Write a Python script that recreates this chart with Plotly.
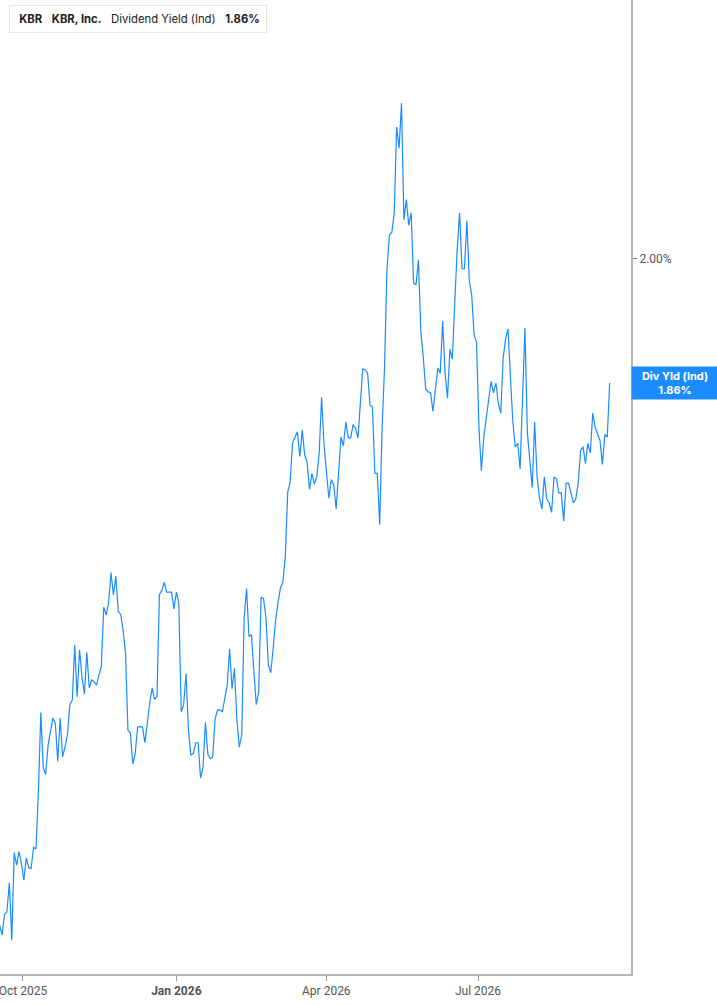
import pandas as pd
import plotly.graph_objects as go

# Dividend yield (Ind), %, one value per trading session
yield_q1 = [1.248, 1.237, 1.260, 1.263, 1.296, 1.231, 1.330, 1.316, 1.331, 1.318,
            1.299, 1.324, 1.313, 1.312, 1.336, 1.334, 1.397, 1.488, 1.426, 1.418,
            1.451, 1.465, 1.482, 1.476, 1.433, 1.482, 1.438, 1.449, 1.463, 1.497,
            1.502, 1.564, 1.506, 1.559, 1.528, 1.509, 1.556, 1.516, 1.525, 1.523,
            1.519, 1.530, 1.540, 1.607, 1.598, 1.612, 1.646, 1.621, 1.642, 1.602,
            1.599, 1.581, 1.555, 1.468, 1.465, 1.430, 1.442, 1.472, 1.472, 1.472,
            1.454, 1.480, 1.499, 1.516, 1.503, 1.506]
yield_q2 = [1.621, 1.626, 1.635, 1.624, 1.624, 1.624, 1.605, 1.624, 1.612, 1.489,
            1.497, 1.532, 1.468, 1.440, 1.442, 1.454, 1.454, 1.414, 1.426, 1.477,
            1.441, 1.436, 1.438, 1.481, 1.491, 1.491, 1.489, 1.505, 1.519, 1.560,
            1.515, 1.538, 1.480, 1.449, 1.463, 1.595, 1.628, 1.574, 1.576, 1.536,
            1.497, 1.511, 1.618, 1.617, 1.596, 1.542, 1.533, 1.561, 1.593, 1.612,
            1.629, 1.635, 1.664, 1.737, 1.748, 1.793, 1.800, 1.805, 1.777, 1.807,
            1.779, 1.770, 1.740, 1.758]
yield_q3 = [1.746, 1.754, 1.781, 1.844, 1.790, 1.762, 1.730, 1.751, 1.745, 1.718,
            1.758, 1.799, 1.789, 1.816, 1.798, 1.798, 1.813, 1.809, 1.798, 1.841,
            1.876, 1.875, 1.871, 1.835, 1.833, 1.758, 1.758, 1.700, 1.810, 1.878,
            1.988, 2.027, 2.030, 2.052, 2.149, 2.125, 2.176, 2.044, 2.067, 2.038,
            2.052, 1.973, 1.971, 1.999, 1.918, 1.889, 1.853, 1.850, 1.849, 1.828,
            1.854, 1.877, 1.871, 1.930, 1.871, 1.843, 1.898, 1.887, 1.950, 2.011,
            2.052, 1.989, 1.989, 2.043, 1.976, 1.959, 1.914, 1.906]
yield_q4 = [1.809, 1.761, 1.799, 1.818, 1.841, 1.862, 1.849, 1.860, 1.837, 1.826,
            1.888, 1.910, 1.921, 1.866, 1.816, 1.788, 1.792, 1.763, 1.837, 1.922,
            1.804, 1.777, 1.742, 1.816, 1.754, 1.730, 1.718, 1.754, 1.729, 1.725,
            1.714, 1.754, 1.752, 1.736, 1.736, 1.704, 1.747, 1.747, 1.737, 1.725,
            1.729, 1.747, 1.784, 1.788, 1.769, 1.792, 1.781, 1.826, 1.810, 1.802,
            1.795, 1.768, 1.802, 1.799, 1.860]

values = yield_q1 + yield_q2 + yield_q3 + yield_q4
first_date = "2025-09-17"
last_date = "2026-09-18"
dates = pd.date_range(first_date, last_date, periods=len(values))

tick_dates = ["2025-10-01", "2026-01-01", "2026-04-01", "2026-07-01"]
tick_labels = ["Oct 2025", "<b>Jan 2026</b>", "Apr 2026", "Jul 2026"]

ticker = "KBR"
company = "KBR, Inc."
metric = "Dividend Yield (Ind)"
last_label = "Div Yld (Ind)"
last_value = values[-1]

BLUE = "#1a8cff"
W, H = 717, 1005
L, R, T, B = 0, 86, 0, 31
PW, PH = W - L - R, H - T - B

fig = go.Figure()
fig.add_trace(go.Scatter(x=dates, y=values, mode="lines",
                         line=dict(color=BLUE, width=1.2), hoverinfo="skip",
                         showlegend=False))

fig.update_layout(
    width=W, height=H,
    margin=dict(l=L, r=R, t=T, b=B),
    paper_bgcolor="white", plot_bgcolor="white",
    font=dict(family="Liberation Sans Narrow, Roboto, sans-serif", color="#555555"),
    xaxis=dict(range=["2025-09-17 05:00", "2026-09-30 19:00"],
               tickvals=tick_dates, ticktext=tick_labels,
               showgrid=False, zeroline=False,
               showline=True, linecolor="#b8b8b8", linewidth=2,
               ticks="outside", ticklen=5, tickcolor="#999999", tickwidth=1,
               ticklabeloverflow="allow",
               tickfont=dict(size=12, color="#555555")),
    yaxis=dict(range=[1.193, 2.2923], side="right",
               tickvals=[2.0], ticktext=["2.00%"],
               showgrid=False, zeroline=False,
               showline=True, linecolor="#b8b8b8", linewidth=2,
               ticks="outside", ticklen=4, tickcolor="#777777",
               tickfont=dict(size=12, color="#555555")),
)

sp = "\u00a0\u00a0\u00a0"
# legend-like header box
fig.add_annotation(
    xref="paper", yref="paper", x=9 / PW, y=1 - 5 / PH,
    xanchor="left", yanchor="top", showarrow=False,
    text=(f"\u00a0<b>{ticker}</b>{sp}<b>{company}</b>{sp}"
          f"{metric}{sp}<b>{last_value:.2f}%</b>"),
    font=dict(family="Inter, Roboto, sans-serif", size=11.3, color="#222222"),
    bgcolor="white", bordercolor="#e6e6e6", borderwidth=1, borderpad=6,
)
fig.add_shape(type="rect", xref="paper", yref="paper",
              x0=9 / PW, x1=12 / PW, y0=1 - 33 / PH, y1=1 - 5 / PH,
              fillcolor=BLUE, line=dict(width=0), layer="above")

# last value label on the right axis
fig.add_annotation(
    xref="paper", yref="y", x=1, y=last_value,
    xanchor="left", yanchor="middle", showarrow=False,
    text=f"<b>{last_label}<br>{last_value:.2f}%</b>",
    font=dict(family="Inter, Roboto, sans-serif", size=11, color="white"),
    bgcolor=BLUE, borderpad=2, width=82, align="center",
)

fig.write_html("out.html", config={"displayModeBar": False},
               post_script="document.body.style.margin='0';")
